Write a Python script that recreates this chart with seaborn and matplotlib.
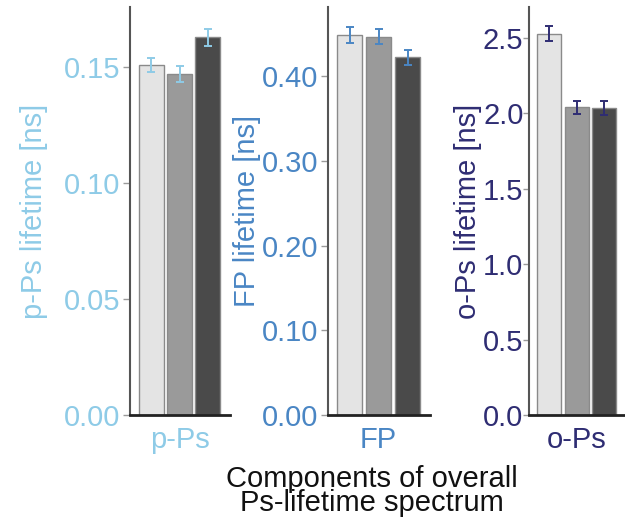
import matplotlib
matplotlib.use("Agg")
import matplotlib.pyplot as plt
import pandas as pd
import seaborn as sns

# Lifetime components (ns) for three sample groups, with uncertainties
components = ["p-Ps", "FP", "o-Ps"]
groups = ["group 1", "group 2", "group 3"]
p_ps_lifetime = [0.151, 0.147, 0.163]
p_ps_error = [0.0032, 0.0034, 0.0037]
fp_lifetime = [0.4485, 0.4470, 0.4225]
fp_error = [0.0095, 0.0090, 0.0085]
o_ps_lifetime = [2.53, 2.04, 2.035]
o_ps_error = [0.050, 0.045, 0.045]

y_labels = ["p-Ps lifetime [ns]", "FP lifetime [ns]", "o-Ps lifetime [ns]"]
y_ticks = [
    [0.00, 0.05, 0.10, 0.15],
    [0.00, 0.10, 0.20, 0.30, 0.40],
    [0.0, 0.5, 1.0, 1.5, 2.0, 2.5],
]
tick_formats = ["{:.2f}", "{:.2f}", "{:.1f}"]
x_title = "Components of overall\nPs-lifetime spectrum"

sns.set_style("ticks")
plt.rcParams["font.family"] = ["Liberation Sans", "DejaVu Sans"]

panel_colors = ["#8ecbe7", "#4a86c4", "#2f2d73"]
bar_colors = ["#e4e4e4", "#9a9a9a", "#4a4a4a"]
y_tops = [0.176, 0.482, 2.706]
label_pads = [11, 0.5, 0.5]
tick_pads = [2, 2, 0]
tick_lengths = [5, 5, 4]
rects = [
    [130 / 625, 0.2065, 100 / 625, 0.780],
    [328 / 625, 0.2065, 102 / 625, 0.780],
    [529 / 625, 0.2065, 96 / 625, 0.780],
]

values = [p_ps_lifetime, fp_lifetime, o_ps_lifetime]
errors = [p_ps_error, fp_error, o_ps_error]

fig = plt.figure(figsize=(6.25, 5.23), dpi=100)

for i, comp in enumerate(components):
    ax = fig.add_axes(rects[i])
    df = pd.DataFrame({
        "component": [comp] * len(groups),
        "group": groups,
        "lifetime": values[i],
    })
    sns.barplot(
        data=df, x="component", y="lifetime", hue="group",
        palette=bar_colors, errorbar=None, gap=0.12,
        edgecolor="#8a8a8a", linewidth=1.0, legend=False, ax=ax,
    )
    centers = [p.get_x() + p.get_width() / 2 for p in ax.patches]
    ax.errorbar(
        centers, values[i], yerr=errors[i], fmt="none",
        ecolor=panel_colors[i], elinewidth=1.4, capsize=3, capthick=1.4,
        zorder=5,
    )

    color = panel_colors[i]
    ax.set_xlim(-0.466, 0.474)
    ax.set_ylim(0, y_tops[i])
    ax.set_yticks(y_ticks[i])
    ax.set_yticklabels([tick_formats[i].format(t) for t in y_ticks[i]])
    ax.set_xlabel("")
    ax.set_ylabel(y_labels[i], color=color, fontsize=21, labelpad=label_pads[i])

    ax.tick_params(axis="y", labelsize=21, labelcolor=color,
                   length=tick_lengths[i], width=1, color="#9a9a9a",
                   pad=tick_pads[i])
    ax.tick_params(axis="x", labelsize=21, labelcolor=color, length=0, pad=8)

    for side in ("top", "right"):
        ax.spines[side].set_visible(False)
    ax.spines["left"].set_color("#555555")
    ax.spines["left"].set_linewidth(1.5)
    ax.spines["bottom"].set_color("#222222")
    ax.spines["bottom"].set_linewidth(2.0)
    ax.patch.set_alpha(0)

fig.text(372 / 625, 0.061, x_title, ha="center", va="center",
         multialignment="center", fontsize=21, color="#111111",
         linespacing=0.85)

fig.savefig("out.png", dpi=100)
